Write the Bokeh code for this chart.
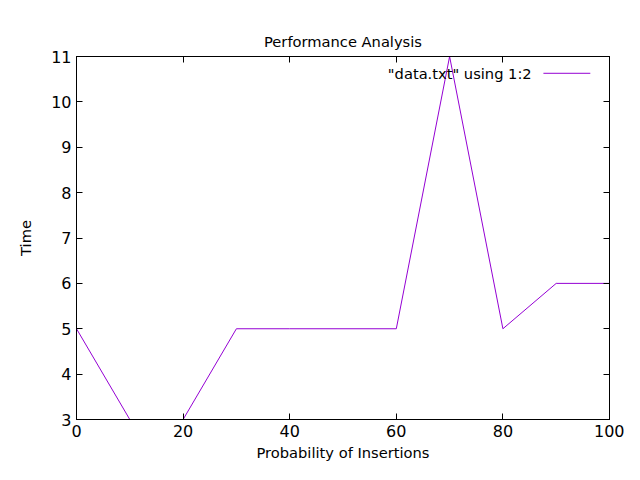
from bokeh.plotting import figure
from bokeh.models import LinearAxis, Label, Arrow, Range1d, FixedTicker
from bokeh.embed import file_html
from bokeh.resources import INLINE

xs = [0, 10, 20, 30, 40, 50, 60, 70, 80, 90, 100]
ys = [5, 3, 3, 5, 5, 5, 5, 11, 5, 6, 6]
xticks = [0, 20, 40, 60, 80, 100]
yticks = [3, 4, 5, 6, 7, 8, 9, 10, 11]
FONT = "DejaVu Sans"

p = figure(width=624, height=464, output_backend="svg", toolbar_location=None,
           x_range=Range1d(0, 100), y_range=Range1d(3, 11),
           min_border_left=76, min_border_right=15, min_border_top=56, min_border_bottom=45)
p.title.text = "Performance Analysis"
p.title.align = "center"
p.title.text_font = FONT
p.title.text_font_size = "11pt"
p.title.text_font_style = "normal"
p.title.text_color = "black"
p.title.standoff = 14
p.xgrid.visible = False
p.ygrid.visible = False
p.outline_line_color = "black"
p.line(xs, ys, line_color="#9400D3", line_width=1)

for ax in (p.xaxis[0], p.yaxis[0]):
    ax.major_tick_in = 6
    ax.major_tick_out = 0
    ax.minor_tick_in = 0
    ax.minor_tick_out = 0
    ax.major_label_text_font = FONT
    ax.major_label_text_font_size = "12pt"
    ax.major_label_text_color = "black"
    ax.axis_label_text_font = FONT
    ax.axis_label_text_font_size = "11pt"
    ax.axis_label_text_font_style = "normal"
    ax.axis_label_text_color = "black"
p.xaxis[0].ticker = FixedTicker(ticks=xticks)
p.yaxis[0].ticker = FixedTicker(ticks=yticks)
p.xaxis[0].axis_label = "Probability of Insertions"
p.yaxis[0].axis_label = "Time"
p.xaxis[0].axis_label_standoff = 4
p.yaxis[0].axis_label_standoff = 14

ra = LinearAxis(ticker=FixedTicker(ticks=yticks), major_label_text_color=None,
                major_tick_in=6, major_tick_out=0, minor_tick_in=0, minor_tick_out=0)
ta = LinearAxis(ticker=FixedTicker(ticks=xticks), major_label_text_color=None,
                major_tick_in=6, major_tick_out=0, minor_tick_in=0, minor_tick_out=0)
p.add_layout(ra, "right")
p.add_layout(ta, "above")

p.add_layout(Label(x=85.4, y=10.63, text='"data.txt" using 1:2', text_align="right",
                   text_baseline="middle", text_font=FONT, text_font_size="11pt",
                   text_color="black"))
p.add_layout(Arrow(x_start=87.6, y_start=10.63, x_end=96.4, y_end=10.63, end=None,
                   line_color="#9400D3", line_width=1))

open("out.html", "w").write(file_html(p, INLINE))
